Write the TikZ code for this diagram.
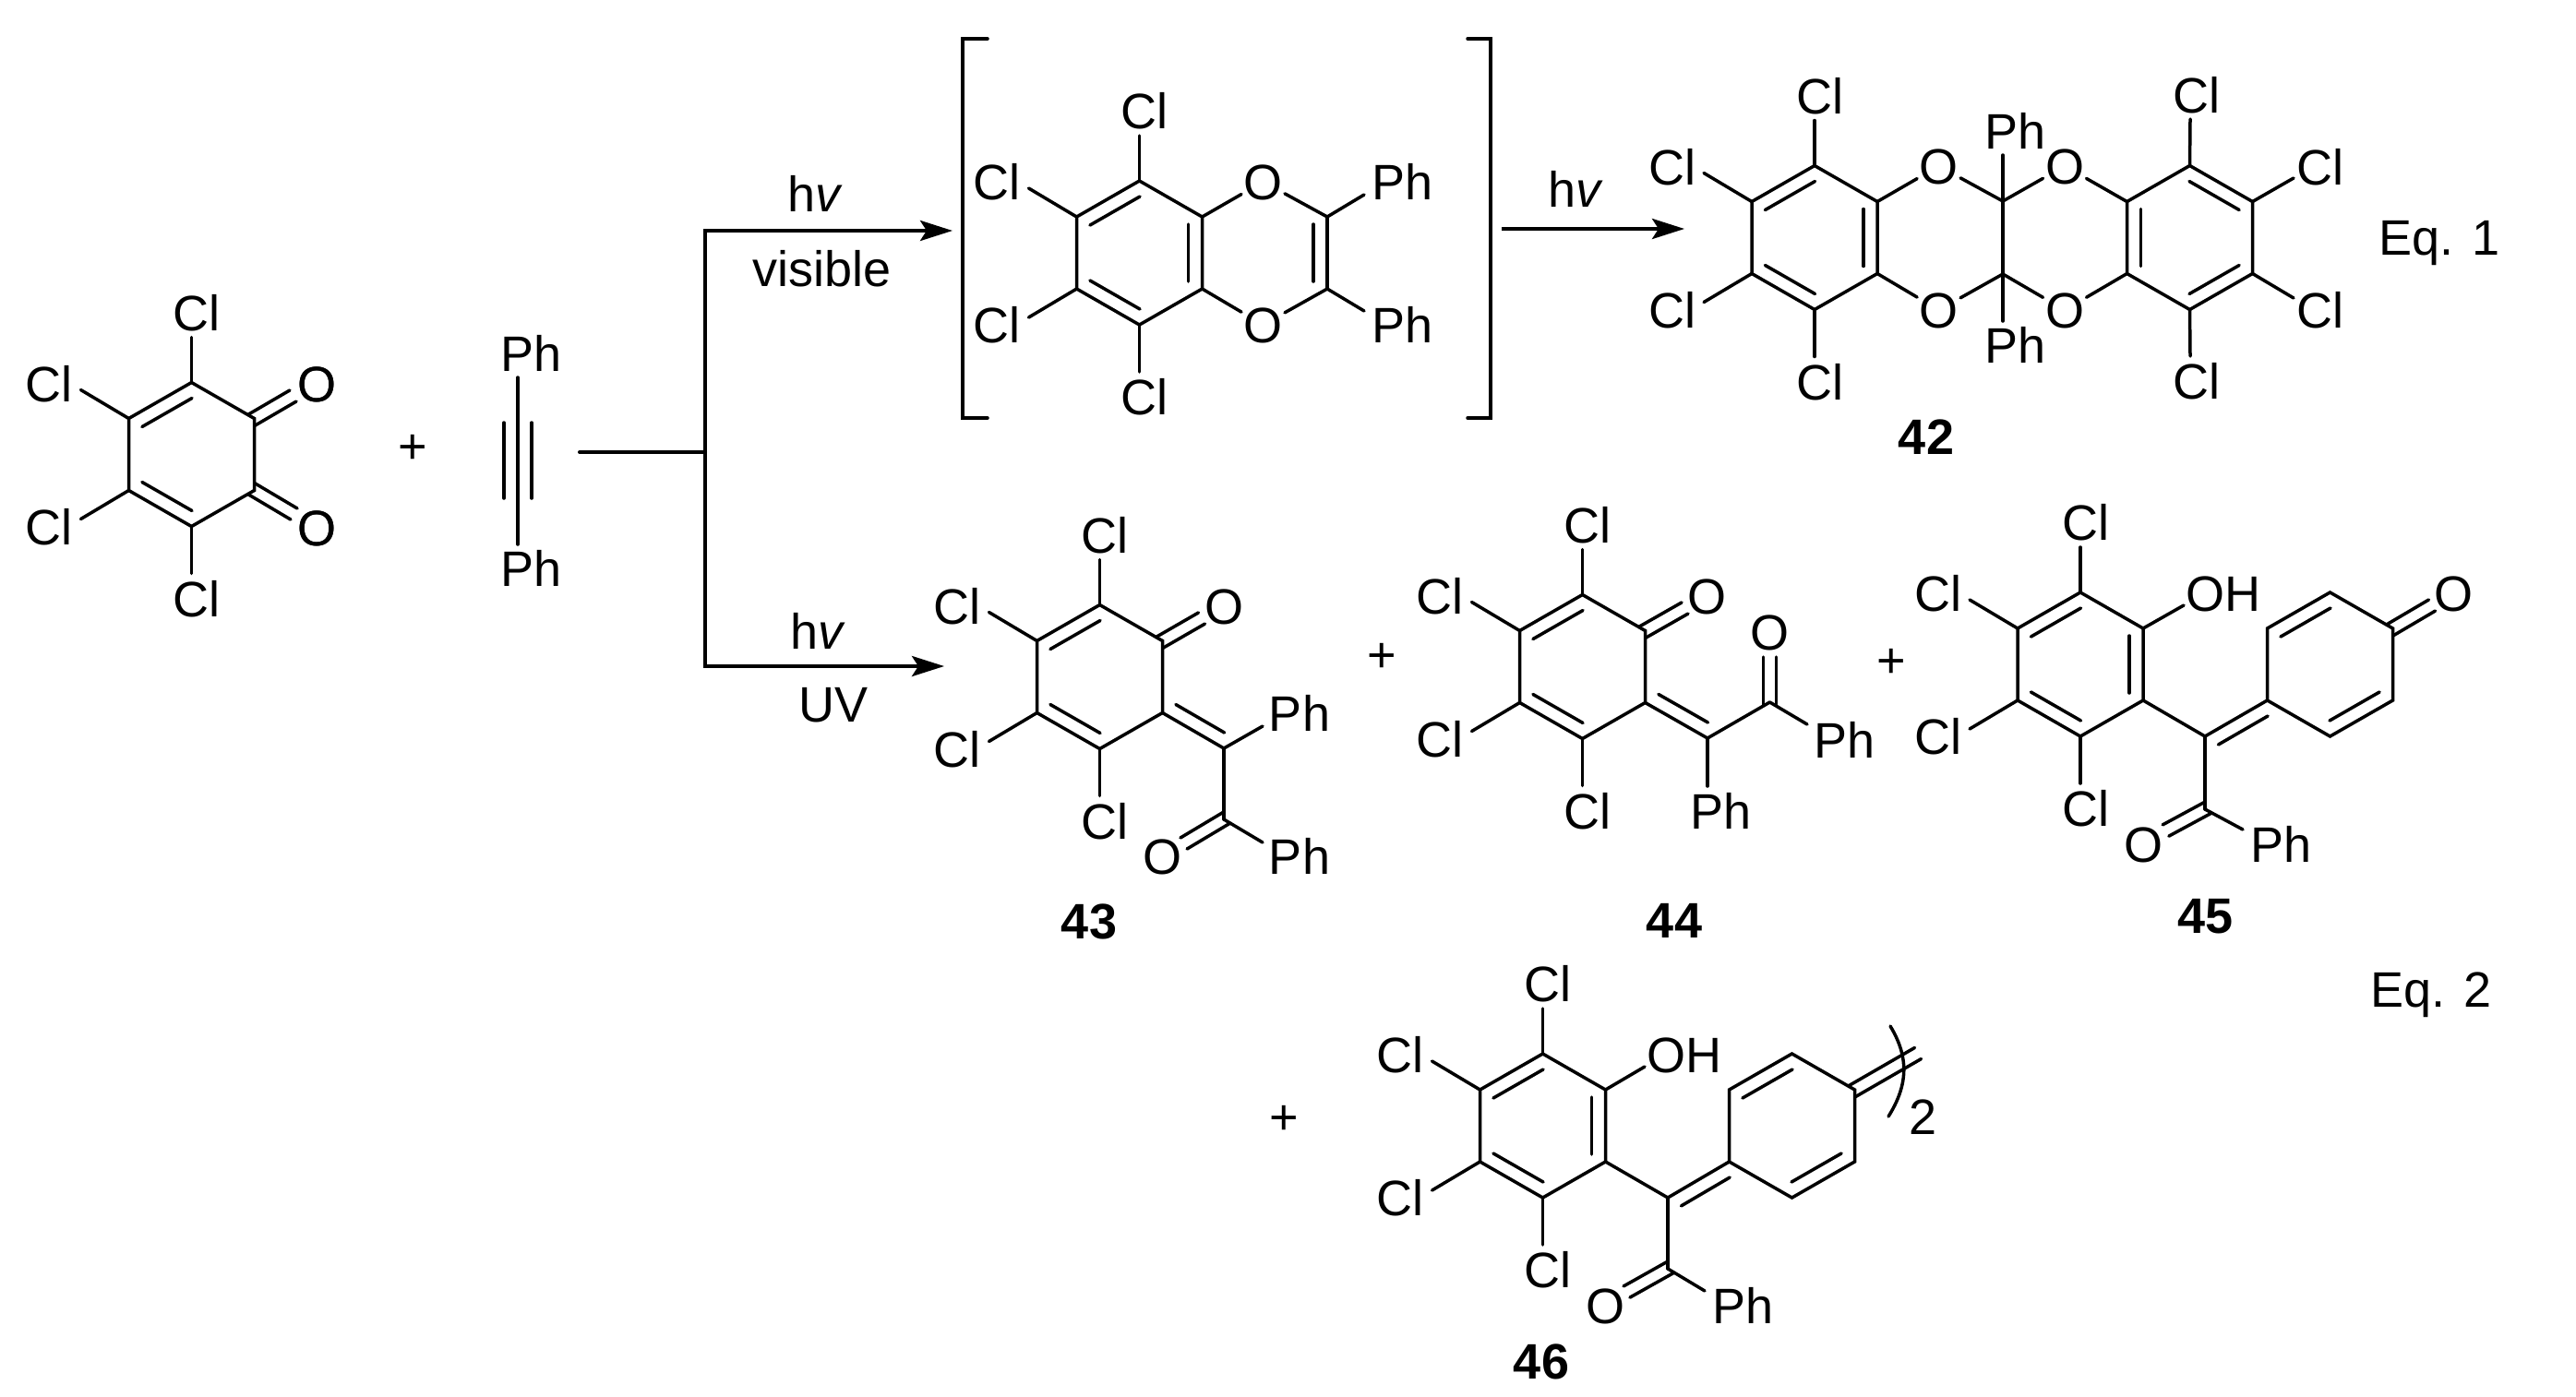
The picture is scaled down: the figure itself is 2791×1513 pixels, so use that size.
\documentclass[tikz,border=0pt]{standalone}
\usepackage{fontspec}
\setmainfont{Liberation Sans}
\usetikzlibrary{arrows.meta,calc}
\tikzstyle{bond}=[draw,line width=3.5pt,line cap=round]
\tikzstyle{arrow}=[draw,line width=4pt,-{Stealth[length=35pt,width=22pt,inset=7pt]}]
\tikzstyle{atom}=[font=\fontsize{54}{60}\selectfont,inner sep=0pt,outer sep=2.5pt,text height=39pt,text depth=0pt]
\tikzstyle{compound}=[atom,font=\fontsize{54}{60}\selectfont\bfseries]
\tikzstyle{sign}=[font=\fontsize{54}{60}\selectfont,inner sep=0pt]
\newcommand{\hexring}[3]{
    \foreach \k/\dx/\dy in {1/0/-78, 2/-68/-39, 3/-68/39, 4/0/78, 5/68/39, 6/68/-39}
        \coordinate (#1\k) at ($(#2,#3)+(\dx,\dy)$);
    \draw[bond] (#11) -- (#12) -- (#13) -- (#14) -- (#15) -- (#16) -- cycle;
}
\newcommand{\clset}[1]{
    \foreach \k/\ex/\ey/\lx/\ly in {1/0/-49/5.5/-76, 2/-52/-31/-86.5/-38, 3/-52/31/-86.5/39, 4/0/51/5.5/78} {
        \node[atom] (#1c\k) at ($(#1\k)+(\lx,\ly)$) {Cl};
        \coordinate (#1e\k) at ($(#1\k)+(\ex,\ey)$);
        \draw[bond] (#1\k) -- (#1e\k);
    }
}
\newcommand{\dbl}[3][8]{\draw[bond] ($(#2)!#1pt!(#3)!15pt!90:(#3)$) -- ($(#3)!#1pt!(#2)!15pt!-90:(#2)$);}
\newcommand{\twin}[2]{
    \draw[bond] ($(#1)!-4pt!(#2)!7pt!90:(#2)$) -- ($(#2)!7pt!-90:(#1)$);
    \draw[bond] ($(#1)!-4pt!(#2)!7pt!-90:(#2)$) -- ($(#2)!7pt!90:(#1)$);
}
\newcommand{\hnu}{h\textit{v}}

\begin{document}
\begin{tikzpicture}[x=1pt,y=-1pt]
    \useasboundingbox (0,0) rectangle (2791,1513);
    % chloranil and the alkyne
    \hexring{q}{207.5}{492.5}
    \clset{q}
    \foreach \a/\b in {q1/q2, q3/q4} \dbl{\a}{\b}
    \foreach \pos/\name in {{(343,416)/qo1}, {(343,572)/qo2}}
        \node[atom] (\name) at \pos {O};
    \foreach \pos/\name in {{(575.5,383)/yp1}, {(575.5,616)/yp2}}
        \node[atom] (\name) at \pos {Ph};
    \foreach \px/\py/\name in {317.5/429/qe1, 318.5/557/qe2, 561/409/yn1, 561/458/yn2, 561/540/yn3, 561/590/yn4}
        \coordinate (\name) at (\px,\py);
    \twin{q6}{qe1}
    \twin{q5}{qe2}
    \draw[bond] (yn1) -- (yn4);
    \dbl[0]{yn2}{yn3}
    \dbl[0]{yn3}{yn2}
    \node[sign] (plus1) at (447,487) {+};
    % branching arrows
    \foreach \px/\py/\name in {628/490/st, 764/490/fork, 1032/250/tip1, 1023/722/tip2, 1627/248/st2, 1825/248/tip3}
        \coordinate (\name) at (\px,\py);
    \draw[bond,line width=4pt] (st) -- (fork);
    \draw[arrow] (fork) |- (tip1);
    \draw[arrow] (fork) |- (tip2);
    \draw[arrow] (st2) -- (tip3);
    \node[atom] (hv1) at (883,210) {\hnu};
    \node[atom] (vis) at (891,291) {visible};
    \node[atom] (hv2) at (886.5,684) {\hnu};
    \node[atom] (uv) at (903,763) {UV};
    \node[atom] (hv3) at (1707,205) {\hnu};
    % bracketed intermediate
    \hexring{d}{1234.5}{274}
    \clset{d}
    \foreach \a/\b in {d1/d2, d3/d4, d5/d6} \dbl{\a}{\b}
    \foreach \px/\py/\name in {1438/235/g1, 1438/313/g2, 1478/211/ge1, 1478/337/ge2,
        1070/42/bl1, 1043/42/bl2, 1043/453/bl3, 1070/453/bl4,
        1590/42/br1, 1615/42/br2, 1615/453/br3, 1590/453/br4}
        \coordinate (\name) at (\px,\py);
    \node[atom] (f1) at (1368.5,197) {O};
    \node[atom] (f2) at (1368.5,352) {O};
    \node[atom] (gp1) at (1519.5,197) {Ph};
    \node[atom] (gp2) at (1519.5,352) {Ph};
    \foreach \a/\b in {d6/f1, f1/g1, d5/f2, f2/g2, g1/g2, g1/ge1, g2/ge2}
        \draw[bond] (\a) -- (\b);
    \dbl{g2}{g1}
    \draw[bond] (bl1) -- (bl2) -- (bl3) -- (bl4);
    \draw[bond] (br1) -- (br2) -- (br3) -- (br4);
    % 42
    \hexring{L}{1966}{257.5}
    \hexring{R}{2372.5}{257.5}
    \clset{L}
    \foreach \a/\b in {L1/L2, L3/L4, L5/L6, R2/R3, R4/R5, R6/R1} \dbl{\a}{\b}
    \foreach \px/\py/\name in {2170/218/x1, 2170/297/x2, 2170/168/xe1, 2170/348/xe2,
        2373/129/Re1, 2485/193/Re2, 2485/323/Re3, 2373/386/Re4}
        \coordinate (\name) at (\px,\py);
    \foreach \pos/\name in {{(2100.6,180)/o1}, {(2237,180)/o2}, {(2100.6,336)/o3}, {(2237,336)/o4}}
        \node[atom] (\name) at \pos {O};
    \foreach \pos/\name in {{(2379.5,103)/Rc1}, {(2513.6,181)/Rc2}, {(2513.6,336)/Rc3}, {(2379.5,413)/Rc4}}
        \node[atom] (\name) at \pos {Cl};
    \node[atom] (xp1) at (2183.6,142) {Ph};
    \node[atom] (xp2) at (2183.6,374) {Ph};
    \foreach \a/\b in {L6/o1, o1/x1, x1/o2, o2/R2, L5/o3, o3/x2, x2/o4, o4/R3, x1/x2, x1/xe1, x2/xe2,
        R1/Re1, R6/Re2, R5/Re3, R4/Re4}
        \draw[bond] (\a) -- (\b);
    \node[compound] (n42) at (2087,473) {42};
    \node[atom] (eq1) at (2643,257) {Eq. 1};
    % 43
    \hexring{m}{1191.5}{733.5}
    \clset{m}
    \foreach \a/\b in {m1/m2, m3/m4} \dbl{\a}{\b}
    \foreach \px/\py/\name in {1326/811/mx, 1326/888/my, 1368/787/mp1, 1368/913/mp2, 1302/670/me1, 1282.5/914/me2}
        \coordinate (\name) at (\px,\py);
    \foreach \a/\b in {m5/mx, mx/my, mx/mp1, my/mp2} \draw[bond] (\a) -- (\b);
    \dbl{m5}{mx}
    \twin{m6}{me1}
    \twin{my}{me2}
    \node[atom] (mo1) at (1326,657) {O};
    \node[atom] (mo2) at (1259,928) {O};
    \node[atom] (mph1) at (1408,773) {Ph};
    \node[atom] (mph2) at (1408,928) {Ph};
    \node[compound] (n43) at (1180,998) {43};
    \node[sign] (plus2) at (1497,713) {+};
    % 44
    \hexring{n}{1714.5}{722.5}
    \clset{n}
    \foreach \a/\b in {n1/n2, n3/n4} \dbl{\a}{\b}
    \foreach \px/\py/\name in {1850/800/nx, 1917.5/761/ny, 1850/852/np1, 1958/785/np2, 1825.5/659/ne1, 1917.5/712/ne2}
        \coordinate (\name) at (\px,\py);
    \foreach \a/\b in {n5/nx, nx/ny, nx/np1, ny/np2} \draw[bond] (\a) -- (\b);
    \dbl{n5}{nx}
    \twin{n6}{ne1}
    \twin{ny}{ne2}
    \node[atom] (no1) at (1849,646) {O};
    \node[atom] (no2) at (1917.5,685) {O};
    \node[atom] (nph1) at (1864,879) {Ph};
    \node[atom] (nph2) at (1998,802) {Ph};
    \node[compound] (n44) at (1814,997) {44};
    \node[sign] (plus3) at (2049,719) {+};
    % 45
    \hexring{r}{2254}{720}
    \hexring{s}{2524.5}{720}
    \clset{r}
    \foreach \a/\b in {r1/r2, r3/r4, r5/r6, s1/s2, s4/s5} \dbl{\a}{\b}
    \foreach \px/\py/\name in {2389/798/rx, 2389/877/ry, 2430/899/rp, 2366/656/rh, 2635/656/se, 2346.5/900/re}
        \coordinate (\name) at (\px,\py);
    \foreach \a/\b in {r5/rx, rx/s3, rx/ry, ry/rp, r6/rh} \draw[bond] (\a) -- (\b);
    \dbl{s3}{rx}
    \twin{s6}{se}
    \twin{ry}{re}
    \node[atom] (so) at (2658,643) {O};
    \node[atom] (ro) at (2322,915) {O};
    \node[atom] (rph) at (2471,915) {Ph};
    \node[atom] (roh) at (2409,643) {OH};
    \node[compound] (n45) at (2389,992) {45};
    \node[atom] (eq2) at (2634,1072) {Eq. 2};
    % 46
    \node[sign] (plus4) at (1391,1214) {+};
    \hexring{u}{1671.5}{1220}
    \hexring{v}{1941.5}{1220}
    \clset{u}
    \foreach \a/\b in {u1/u2, u3/u4, u5/u6, v1/v2, v4/v5} \dbl{\a}{\b}
    \foreach \px/\py/\name in {1807/1298/ux, 1807/1375/uy, 1847/1399/up, 1782/1156/uh, 2078/1141.5/ve, 1762.5/1400/ue,
        2048/1112/pa1, 2068/1145/pa2, 2068/1175/pa3, 2046/1210/pa4}
        \coordinate (\name) at (\px,\py);
    \foreach \a/\b in {u5/ux, ux/v3, ux/uy, uy/up, u6/uh} \draw[bond] (\a) -- (\b);
    \dbl{v3}{ux}
    \twin{v6}{ve}
    \twin{uy}{ue}
    \draw[bond] (pa1) .. controls (pa2) and (pa3) .. (pa4);
    \node[atom] (uo) at (1739,1415) {O};
    \node[atom] (uph) at (1888,1415) {Ph};
    \node[atom] (uoh) at (1825,1143) {OH};
    \node[atom] (two) at (2083,1210) {2};
    \node[compound] (n46) at (1670,1475) {46};
\end{tikzpicture}
\end{document}
